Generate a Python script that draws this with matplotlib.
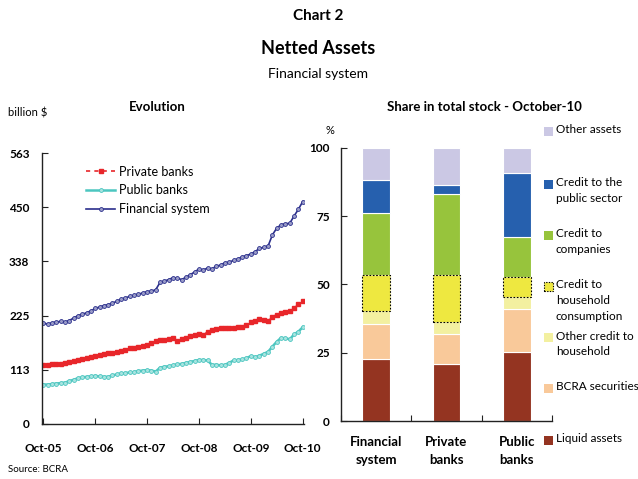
import matplotlib
matplotlib.use("Agg")
import matplotlib.pyplot as plt
from matplotlib.patches import Rectangle
import numpy as np

plt.rcParams['font.family'] = ['Lato', 'DejaVu Sans']

# ---------------- data ----------------
x_ticklabels = ["Oct-05", "Oct-06", "Oct-07", "Oct-08", "Oct-09", "Oct-10"]
y_ticks_left = [0, 113, 225, 338, 450, 563]

financial_system = [209, 208, 210, 212, 213, 212, 215, 220, 225, 228, 231, 235, 240,
                    243, 246, 248, 251, 255, 259, 262, 265, 267, 270, 272, 275,
                    276, 279, 294, 297, 300, 304, 303, 300, 305, 310, 316, 322,
                    320, 324, 322, 328, 330, 335, 336, 340, 343, 347, 350, 353,
                    358, 365, 367, 370, 393, 407, 414, 416, 417, 432, 446, 462]
private_banks = [123, 123, 124, 124, 125, 126, 128, 130, 133, 135, 137, 139, 141,
                 143, 145, 147, 148, 150, 152, 154, 157, 158, 160, 162, 164,
                 168, 173, 174, 175, 177, 178, 173, 176, 179, 182, 184, 186,
                 184, 192, 195, 197, 199, 200, 200, 200, 201, 202, 206, 211,
                 214, 218, 216, 213, 223, 227, 231, 233, 234, 240, 249, 256]
public_banks = [82, 82, 83, 84, 85, 86, 89, 92, 95, 97, 98, 99, 100,
                99, 98, 98, 101, 103, 105, 106, 107, 108, 110, 111, 112,
                111, 109, 117, 119, 120, 122, 124, 125, 127, 129, 131, 133,
                133, 132, 123, 123, 122, 123, 127, 132, 133, 134, 137, 141,
                139, 142, 146, 150, 161, 171, 179, 178, 176, 186, 192, 201]

bar_categories = ["Financial\nsystem", "Private\nbanks", "Public\nbanks"]
liquid_assets = [22.6, 20.7, 25.4]
bcra_securities = [12.8, 11.0, 15.6]
other_credit_household = [5.0, 4.6, 4.5]
credit_household_consumption = [12.9, 17.0, 7.2]
credit_companies = [22.9, 29.6, 14.5]
credit_public_sector = [12.0, 3.3, 23.4]
other_assets = [11.8, 13.8, 9.4]

# ---------------- figure ----------------
W, H = 638, 479
fig = plt.figure(figsize=(W / 100, H / 100), dpi=100)

def fy(py):
    return 1 - py / H

def fx(px):
    return px / W

fig.text(fx(318), fy(16), "Chart 2", ha="center", va="center", fontsize=11, fontweight="bold")
fig.text(fx(318), fy(48), "Netted Assets", ha="center", va="center", fontsize=13, fontweight="bold")
fig.text(fx(318), fy(74), "Financial system", ha="center", va="center", fontsize=10)
fig.text(fx(8), fy(113), "billion $", ha="left", va="center", fontsize=8)
fig.text(fx(157), fy(107), "Evolution", ha="center", va="center", fontsize=9.5, fontweight="bold")
fig.text(fx(484), fy(107), "Share in total stock - October-10", ha="center", va="center",
         fontsize=9.5, fontweight="bold")
fig.text(fx(330), fy(130), "%", ha="center", va="center", fontsize=8)
fig.text(fx(8), fy(470), "Source: BCRA", ha="left", va="center", fontsize=7)

# ---------------- left: line chart ----------------
axL = fig.add_axes([fx(42), fy(424), (304 - 42) / W, (424 - 153) / H])
months = np.arange(len(financial_system))
axL.plot(months, private_banks, color="#E8262A", lw=1.2, ls=(0, (2.5, 2.5)),
         marker="s", ms=3.2, mfc="#E8262A", mec="#E8262A", label="Private banks")
axL.plot(months, public_banks, color="#4CC6C0", lw=1.8,
         marker="o", ms=2.8, mfc="#A8E4E0", mec="#4CC6C0", mew=0.6, label="Public banks")
axL.plot(months, financial_system, color="#2B2F8C", lw=1.2,
         marker="o", ms=2.8, mfc="#9A9CC8", mec="#2B2F8C", mew=0.6, label="Financial system")
axL.set_ylim(0, 563)
axL.set_xlim(-0.3, 60.3)
axL.set_yticks(y_ticks_left)
axL.set_xticks(np.arange(0, 61, 12))
axL.set_xticklabels(x_ticklabels)
for s in ["top", "right"]:
    axL.spines[s].set_visible(False)
for s in ["left", "bottom"]:
    axL.spines[s].set_linewidth(1.0)
    axL.spines[s].set_color("#222222")
axL.tick_params(direction="in", length=4, width=0.8, labelsize=8.5, colors="#222222")
axL.tick_params(axis="x", pad=14)
axL.tick_params(axis="y", pad=9)
for lab in axL.get_xticklabels() + axL.get_yticklabels():
    lab.set_fontweight("bold")
    lab.set_color("black")
leg = axL.legend(loc="upper left", bbox_to_anchor=(0.15, 0.972), frameon=False,
                 fontsize=9, handlelength=2.3, handletextpad=0.3, labelspacing=0.55,
                 borderaxespad=0)

# ---------------- right: stacked bars ----------------
axR = fig.add_axes([fx(341), fy(421), (552 - 341) / W, (421 - 147.7) / H])
segments = [
    (liquid_assets, "#943421", "Liquid assets"),
    (bcra_securities, "#F9C99A", "BCRA securities"),
    (other_credit_household, "#F3F0A0", "Other credit to\nhousehold"),
    (credit_household_consumption, "#EEE840", "Credit to\nhousehold\nconsumption"),
    (credit_companies, "#97C43C", "Credit to\ncompanies"),
    (credit_public_sector, "#2660AE", "Credit to the\npublic sector"),
    (other_assets, "#CBC8E4", "Other assets"),
]
xpos = np.arange(len(bar_categories))
bottom = np.zeros(len(bar_categories))
for vals, col, lab in segments:
    if lab.startswith("Credit to\nhousehold"):
        axR.bar(xpos, vals, 0.39, bottom=bottom, color=col, edgecolor="black",
                linewidth=0.8, linestyle=(0, (1.5, 1.5)), zorder=3)
    else:
        axR.bar(xpos, vals, 0.39, bottom=bottom, color=col, edgecolor="white",
                linewidth=0.8, zorder=2)
    bottom += np.array(vals)
axR.set_xlim(-0.5, 2.5)
axR.set_ylim(0, 100)
axR.set_yticks([0, 25, 50, 75, 100])
axR.set_xticks([-0.5, 0.5, 1.5, 2.5])
axR.set_xticklabels([])
for s in ["top", "right"]:
    axR.spines[s].set_visible(False)
for s in ["left", "bottom"]:
    axR.spines[s].set_linewidth(1.0)
    axR.spines[s].set_color("#222222")
axR.tick_params(direction="in", length=4, width=0.8, labelsize=8.5, colors="#222222")
axR.tick_params(axis="y", pad=8)
for lab in axR.get_yticklabels():
    lab.set_fontweight("bold")
    lab.set_color("black")
for i, cat in enumerate(bar_categories):
    axR.text(i, -0.055, cat, transform=axR.get_xaxis_transform(), ha="center", va="top",
             fontsize=9.5, fontweight="bold", linespacing=1.6)

# right-side legend (manual)
legend_items = [
    ("Other assets", "#CBC8E4", 131, False),
    ("Credit to the\npublic sector", "#2660AE", 184, False),
    ("Credit to\ncompanies", "#97C43C", 235, False),
    ("Credit to\nhousehold\nconsumption", "#EEE840", 286, True),
    ("Other credit to\nhousehold", "#F3F0A0", 337, False),
    ("BCRA securities", "#F9C99A", 388, False),
    ("Liquid assets", "#943421", 440, False),
]
sq = 9
for text, col, py, dotted in legend_items:
    if dotted:
        r = Rectangle((fx(544), fy(py + sq / 2)), sq / W, sq / H, transform=fig.transFigure,
                      facecolor=col, edgecolor="black", linewidth=0.8, linestyle=(0, (1.2, 1.2)))
    else:
        r = Rectangle((fx(544), fy(py + sq / 2)), sq / W, sq / H, transform=fig.transFigure,
                      facecolor=col, edgecolor="none")
    fig.patches.append(r)
    fig.text(fx(556), fy(py - 6.5), text, ha="left", va="top", fontsize=8.5, linespacing=1.5)

fig.savefig("out.png", dpi=100)
